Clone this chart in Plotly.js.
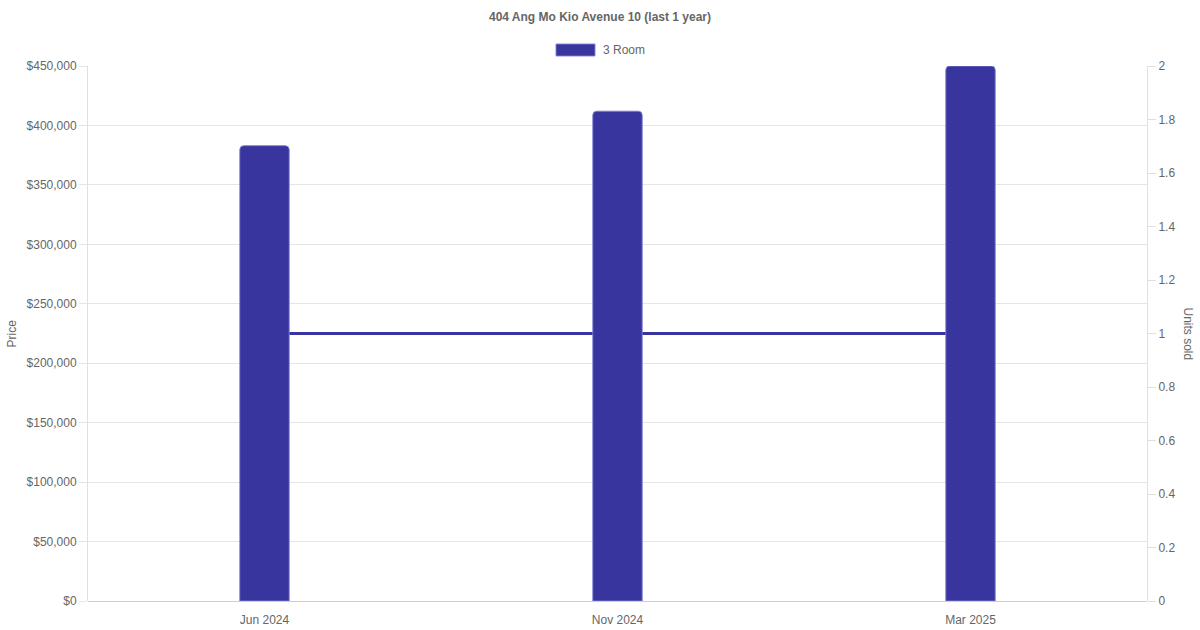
<!DOCTYPE html>
<html>
<head>
<meta charset="utf-8">
<script src="https://cdn.plot.ly/plotly-3.0.1.min.js"></script>
<style>html,body{margin:0;padding:0;background:#fff;}#chart{width:1200px;height:630px;}</style>
</head>
<body>
<div id="chart"></div>
<script>
const months = ["Jun 2024", "Nov 2024", "Mar 2025"];
const prices = [383000, 412000, 450000];
const unitsSold = [1, 1, 1];
const seriesName = "3 Room";
const chartTitle = "404 Ang Mo Kio Avenue 10 (last 1 year)";

const barColor = "#38359f";
const font = "Liberation Sans, Arial, Helvetica, sans-serif";

const traces = [
  {
    type: "scatter", mode: "lines", x: months, y: unitsSold, yaxis: "y",
    line: {color: barColor, width: 3}, showlegend: false, hoverinfo: "skip"
  },
  {
    type: "bar", x: months, y: prices, yaxis: "y2", name: seriesName,
    width: 0.14,
    marker: {color: barColor, line: {color: "rgba(130,128,210,0.9)", width: 1}, cornerradius: 4},
    showlegend: false
  }
];

const layout = {
  width: 1200, height: 630,
  margin: {l: 88, r: 53, t: 66, b: 29},
  paper_bgcolor: "#fff", plot_bgcolor: "#fff",
  font: {family: font, size: 12, color: "#666"},
  title: {text: "<b>" + chartTitle + "</b>", x: 0.5, xanchor: "center", y: 1 - 17/630, yanchor: "middle", font: {size: 12, color: "#666", family: font}},
  showlegend: false,
  xaxis: {
    type: "category", showgrid: false, zeroline: false, showline: false,
    ticks: "outside", ticklen: 8, tickcolor: "rgba(0,0,0,0)",
    tickfont: {size: 12, color: "#666"}, fixedrange: true
  },
  yaxis: {
    side: "right", range: [0, 2], dtick: 0.2, showgrid: false, zeroline: false,
    showline: true, linecolor: "#e0e0e0", linewidth: 1,
    ticks: "outside", ticklen: 8, tickcolor: "#e0e0e0",
    tickfont: {size: 12, color: "#666"}
  },
  yaxis2: {
    overlaying: "y", side: "left", range: [0, 450000], dtick: 50000,
    tickprefix: "$", tickformat: ",d", separators: ".,",
    showgrid: true, gridcolor: "#e5e5e5", gridwidth: 1,
    zeroline: true, zerolinecolor: "#cfcfcf", zerolinewidth: 1,
    showline: true, linecolor: "#e0e0e0", linewidth: 1,
    ticks: "outside", ticklen: 8, tickcolor: "#e5e5e5",
    tickfont: {size: 12, color: "#666"}
  },
  shapes: [
    {type: "rect", xref: "paper", yref: "paper",
     x0: (556-88)/1059, x1: (595-88)/1059, y0: (601-56)/535, y1: (601-44)/535,
     fillcolor: barColor, line: {color: "rgba(130,128,210,0.9)", width: 1}}
  ],
  annotations: [
    {text: seriesName, xref: "paper", yref: "paper", x: (601-88)/1059, y: (601-50)/535,
     xanchor: "left", yanchor: "middle", showarrow: false, font: {size: 12, color: "#666"}},
    {text: "Price", xref: "paper", yref: "paper", x: (11-88)/1059, y: 0.5,
     xanchor: "center", yanchor: "middle", textangle: -90, showarrow: false, font: {size: 12, color: "#666"}},
    {text: "Units sold", xref: "paper", yref: "paper", x: (1188-88)/1059, y: 0.5,
     xanchor: "center", yanchor: "middle", textangle: 90, showarrow: false, font: {size: 12, color: "#666"}}
  ]
};

Plotly.newPlot("chart", traces, layout, {displayModeBar: false, staticPlot: true});
</script>
</body>
</html>
